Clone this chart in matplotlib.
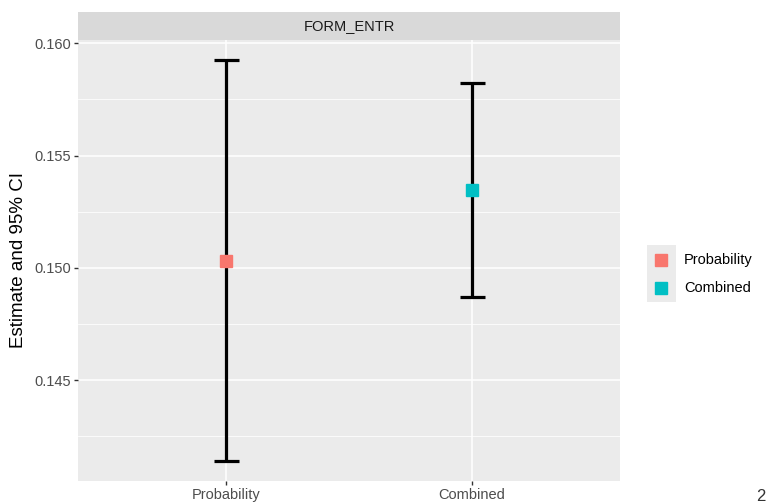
import matplotlib.pyplot as plt
from matplotlib.lines import Line2D

plt.rcParams["font.family"] = ["Liberation Sans", "DejaVu Sans"]

methods = ["Probability", "Combined"]
estimates = [0.15031, 0.15346]
lower = [0.14140, 0.14871]
upper = [0.15925, 0.15822]
colors = ["#F8766D", "#00BFC4"]
facet = "FORM_ENTR"

fig = plt.figure(figsize=(7.66, 5.04), dpi=100)
W, H = 766, 504
ax = fig.add_axes([78 / W, 1 - 481 / H, 542 / W, 441 / H])
ax.set_facecolor("#EBEBEB")

xs = list(range(1, len(methods) + 1))
for x, est, lo, hi, c in zip(xs, estimates, lower, upper, colors):
    ax.errorbar(x, est, yerr=[[est - lo], [hi - est]], fmt="none", ecolor="black",
                elinewidth=2.3, capsize=9, capthick=2.3, zorder=3)
    ax.plot(x, est, marker="s", markersize=8, color=c, linestyle="none", zorder=4)

span = max(upper) - min(lower)
ax.set_ylim(min(lower) - 0.05 * span, max(upper) + 0.05 * span)
ax.set_xlim(0.4, len(methods) + 0.6)

ax.set_yticks([0.145, 0.150, 0.155, 0.160])
ax.set_yticks([0.1425, 0.1475, 0.1525, 0.1575], minor=True)
ax.set_xticks(xs)
ax.set_xticklabels(methods)
ax.grid(True, which="major", color="white", linewidth=1.1)
ax.grid(True, which="minor", axis="y", color="white", linewidth=0.55)
ax.set_axisbelow(True)
for s in ax.spines.values():
    s.set_visible(False)
ax.tick_params(which="major", length=3, width=1, color="#333333",
               labelcolor="#4D4D4D", labelsize=10.5, pad=2)
ax.tick_params(which="minor", length=0)
ax.set_ylabel("Estimate and 95% CI", fontsize=13.5, color="black", labelpad=5)

# facet strip
strip = fig.add_axes([78 / W, 1 - 40 / H, 542 / W, 28 / H])
strip.set_facecolor("#D9D9D9")
strip.set_xticks([])
strip.set_yticks([])
for s in strip.spines.values():
    s.set_visible(False)
strip.text(0.5, 0.5, facet, ha="center", va="center", fontsize=10.5, color="#1A1A1A")

# legend
leg_ax = fig.add_axes([647 / W, 1 - 302 / H, 29 / W, 57 / H])
leg_ax.set_facecolor("#EBEBEB")
leg_ax.set_xticks([])
leg_ax.set_yticks([])
for s in leg_ax.spines.values():
    s.set_visible(False)
for i, (m, c) in enumerate(zip(methods, colors)):
    yc = 1 - (260 + 28 * i) / H
    fig.add_artist(Line2D([661 / W], [yc], marker="s", markersize=8, color=c,
                          linestyle="none"))
    fig.text(684 / W, yc, m, ha="left", va="center", fontsize=10.5, color="black")

# page number at the bottom right corner
fig.text(756 / W, 1 - 489 / H, "2", ha="left", va="top", fontsize=12, color="#333333")

fig.savefig("out.png", dpi=100)
